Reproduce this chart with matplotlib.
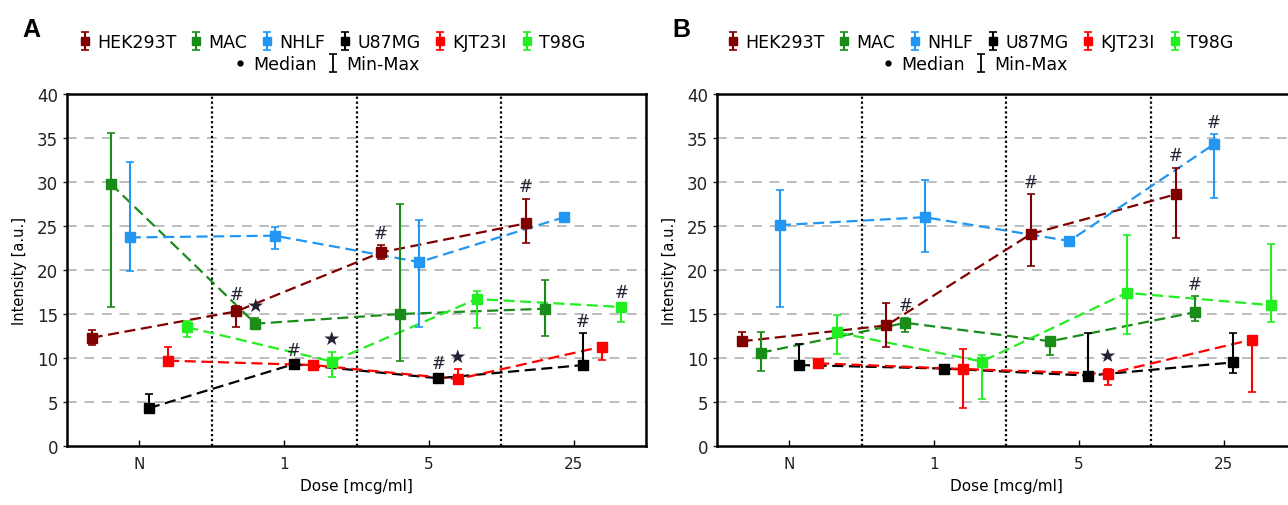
import numpy as np
import matplotlib
matplotlib.use("Agg")
import matplotlib.pyplot as plt
from matplotlib.lines import Line2D

groups = ['N', '1', '5', '25']
series = ['HEK293T', 'MAC', 'NHLF', 'U87MG', 'KJT23I', 'T98G']
colors = ['#800000', '#1a8c1a', '#2196f3', '#000000', '#ff0000', '#22ee22']

# Panel A: median, min, max per series (order: N, 1, 5, 25)
A_med = {
    'HEK293T': [12.3, 15.3, 22.0, 25.3],
    'MAC':     [29.8, 13.9, 15.0, 15.6],
    'NHLF':    [23.7, 23.9, 20.9, 26.0],
    'U87MG':   [4.3, 9.3, 7.7, 9.2],
    'KJT23I':  [9.7, 9.2, 7.6, 11.3],
    'T98G':    [13.5, 9.6, 16.7, 15.8],
}
A_min = {
    'HEK293T': [11.5, 13.5, 21.3, 23.1],
    'MAC':     [15.8, 13.3, 9.7, 12.5],
    'NHLF':    [19.9, 22.4, 13.5, 26.0],
    'U87MG':   [4.0, 9.1, 7.5, 9.0],
    'KJT23I':  [9.5, 9.0, 7.3, 9.8],
    'T98G':    [12.4, 7.8, 13.4, 14.1],
}
A_max = {
    'HEK293T': [13.2, 15.9, 22.8, 28.1],
    'MAC':     [35.6, 14.5, 27.5, 18.9],
    'NHLF':    [32.3, 24.9, 25.7, 26.2],
    'U87MG':   [5.9, 9.5, 8.0, 12.8],
    'KJT23I':  [11.2, 9.4, 8.75, 11.6],
    'T98G':    [14.2, 10.7, 17.6, 16.1],
}

# Panel B
B_med = {
    'HEK293T': [11.9, 13.7, 24.1, 28.6],
    'MAC':     [10.6, 14.0, 11.9, 15.2],
    'NHLF':    [25.1, 26.0, 23.3, 34.3],
    'U87MG':   [9.2, 8.8, 8.0, 9.5],
    'KJT23I':  [9.4, 8.75, 8.2, 12.1],
    'T98G':    [12.9, 9.6, 17.4, 16.0],
}
B_min = {
    'HEK293T': [11.5, 11.2, 20.5, 23.6],
    'MAC':     [8.5, 12.9, 10.3, 14.2],
    'NHLF':    [15.8, 22.1, 22.8, 28.2],
    'U87MG':   [9.0, 8.6, 7.6, 8.3],
    'KJT23I':  [9.2, 4.3, 6.9, 6.1],
    'T98G':    [10.5, 5.3, 12.7, 14.1],
}
B_max = {
    'HEK293T': [13.0, 16.3, 28.6, 31.6],
    'MAC':     [13.0, 14.6, 12.4, 17.0],
    'NHLF':    [29.1, 30.2, 23.5, 35.4],
    'U87MG':   [11.6, 9.0, 12.8, 12.8],
    'KJT23I':  [9.8, 11.0, 8.8, 12.3],
    'T98G':    [14.9, 10.3, 24.0, 22.9],
}

# significance marks: (series, group, symbol)
A_marks = [('HEK293T', '1', '#'), ('MAC', '1', '★'), ('U87MG', '1', '#'),
           ('T98G', '1', '★'), ('HEK293T', '5', '#'), ('U87MG', '5', '#'),
           ('KJT23I', '5', '★'), ('HEK293T', '25', '#'), ('U87MG', '25', '#'),
           ('T98G', '25', '#')]
B_marks = [('MAC', '1', '#'), ('HEK293T', '5', '#'), ('KJT23I', '5', '★'),
           ('HEK293T', '25', '#'), ('MAC', '25', '#'), ('NHLF', '25', '#')]

W, H = 1288, 506
fig = plt.figure(figsize=(W / 100, H / 100), dpi=100)

step = 0.132
x0 = np.arange(len(groups))


def panel(left_px, med, mn, mx, marks, letter, leg_cx):
    ax = fig.add_axes([left_px / W, 1 - 447 / H, 579 / W, 352 / H])
    ax.set_xlim(-0.5, 3.5)
    ax.set_ylim(0, 40)
    for yv in range(5, 40, 5):
        ax.axhline(yv, color='#bdbdbd', lw=1.4, ls=(0, (5, 4)), zorder=0)
    for xv in [0.5, 1.5, 2.5]:
        ax.axvline(xv, color='black', lw=1.6, ls=(0, (1, 1.2)), zorder=1)
    handles = []
    for i, (s, c) in enumerate(zip(series, colors)):
        xs = x0 + (i - 2.5) * step
        m = np.array(med[s]); lo = np.array(mn[s]); hi = np.array(mx[s])
        ax.plot(xs, m, color=c, lw=1.6, ls=(0, (5, 2.5)), zorder=2)
        ax.errorbar(xs, m, yerr=[m - lo, hi - m], fmt='s', color=c, ms=7,
                    elinewidth=1.5, capsize=3, capthick=1.2, zorder=3)
        h = ax.errorbar([np.nan], [np.nan], yerr=[[1], [1]], fmt='s', color=c,
                        ms=6, elinewidth=1.5, capsize=3, capthick=1.2)
        handles.append(h)
    for s, g, sym in marks:
        i = series.index(s); gi = groups.index(g)
        xs = gi + (i - 2.5) * step
        ax.text(xs, mx[s][gi] + 0.4, sym, ha='center', va='bottom',
                fontsize=12 if sym == '#' else 14, color='#222233', zorder=4)
    ax.set_xticks(x0)
    ax.set_xticklabels(groups, fontsize=11, color='#222222')
    ax.set_yticks(range(0, 41, 5))
    ax.tick_params(axis='y', labelsize=12, direction='out', length=3, width=1, colors='#222222')
    ax.tick_params(axis='x', direction='in', length=4, width=1, pad=7)
    for sp in ax.spines.values():
        sp.set_linewidth(1.8)
    ax.set_xlabel('Dose [mcg/ml]', fontsize=11, labelpad=5)
    ax.set_ylabel('Intensity [a.u.]', fontsize=10.5, labelpad=7)
    fig.text((left_px - 45) / W, 1 - 30 / H, letter, fontsize=18, fontweight='bold',
             family='Liberation Sans', ha='left', va='center')
    fig.legend(handles, series, loc='center', bbox_to_anchor=(leg_cx / W, 1 - 43 / H),
               ncol=6, frameon=False, fontsize=12.5, handlelength=0.7,
               handletextpad=0.35, columnspacing=0.8, borderpad=0)
    hm = Line2D([0], [0], marker='o', ms=3.5, color='black', ls='none')
    hmm = ax.errorbar([np.nan], [np.nan], yerr=[[1], [1]], fmt='none', ecolor='black',
                      elinewidth=1.3, capsize=3, capthick=1.2)
    fig.legend([hm, hmm], ['Median', 'Min-Max'], loc='center',
               bbox_to_anchor=((leg_cx - 5) / W, 1 - 65 / H), ncol=2, frameon=False,
               fontsize=12.5, handlelength=0.7, handletextpad=0.4, columnspacing=0.6,
               borderpad=0)
    return ax


panel(67, A_med, A_min, A_max, A_marks, 'A', 332)
panel(717, B_med, B_min, B_max, B_marks, 'B', 980)

fig.savefig('out.png', dpi=100)
